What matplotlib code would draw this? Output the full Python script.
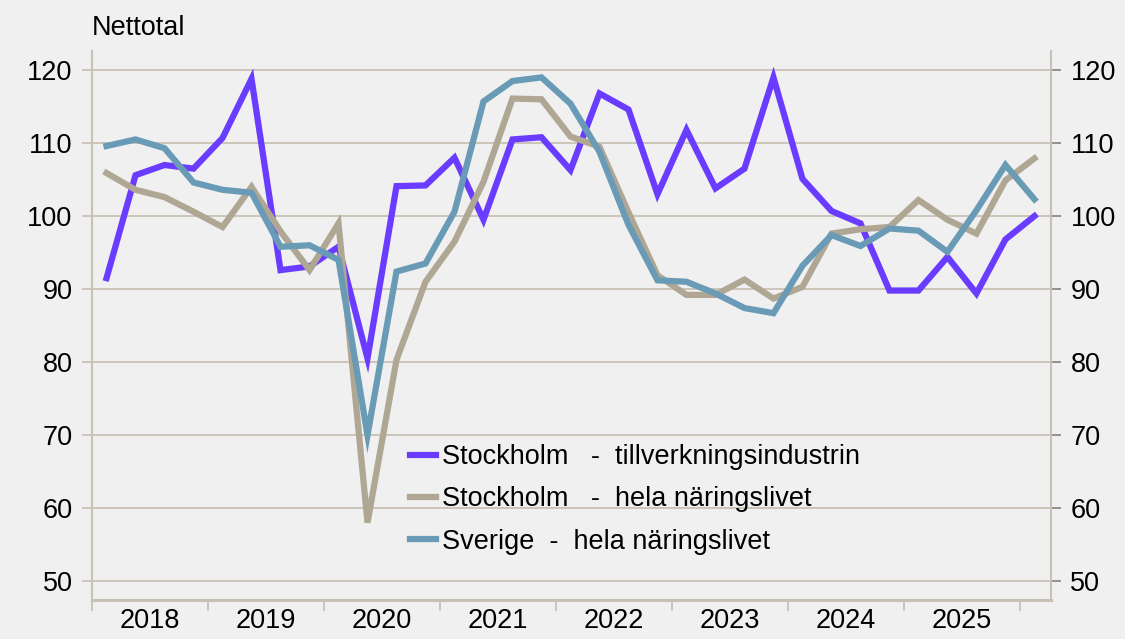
import numpy as np
import matplotlib
matplotlib.use("Agg")
import matplotlib.pyplot as plt

plt.rcParams['font.family'] = ['Liberation Sans', 'DejaVu Sans']

# ── Data (quarterly, 2018 Q1 – 2026 Q1) ─────────────────────────────
years = ['2018', '2019', '2020', '2021', '2022', '2023', '2024', '2025']

sthlm_industri = [
    91.5, 105.6, 107.0, 106.5,
    110.7, 118.8, 92.6, 93.1,
    95.8, 80.5, 104.1, 104.2,
    108.0, 99.5, 110.5, 110.8,
    106.3, 116.8, 114.6, 103.0,
    111.8, 103.8, 106.5, 119.0,
    105.1, 100.7, 99.0, 89.8,
    89.8, 94.4, 89.4, 96.8,
    100.0,
]
sthlm_hela = [
    105.9, 103.6, 102.6, 100.6,
    98.5, 104.0, 97.9, 92.6,
    99.0, 58.0, 80.3, 91.0,
    96.5, 104.7, 116.1, 116.0,
    110.9, 109.5, 100.5, 91.9,
    89.2, 89.2, 91.3, 88.7,
    90.3, 97.6, 98.2, 98.5,
    102.2, 99.5, 97.6, 104.9,
    107.9,
]
sverige_hela = [
    109.6, 110.5, 109.3, 104.6,
    103.6, 103.2, 95.8, 96.0,
    94.0, 70.0, 92.4, 93.5,
    100.6, 115.7, 118.5, 119.0,
    115.4, 108.8, 98.8, 91.2,
    91.0, 89.4, 87.4, 86.7,
    93.2, 97.4, 95.9, 98.3,
    98.0, 95.1, 100.8, 107.0,
    102.3,
]

labels = [
    'Stockholm   -  tillverkningsindustrin',
    'Stockholm   -  hela näringslivet',
    'Sverige  -  hela näringslivet',
]
colors = ['#6a3cff', '#b0a694', '#6a9bb6']

BG = '#f0f0f0'
GRID = '#c9c1b5'
FS = 19.5

x = np.arange(len(sthlm_industri))

fig = plt.figure(figsize=(11.25, 6.39), dpi=100, facecolor=BG)
ax = fig.add_axes([0.0818, 0.061, 0.8524, 0.859])
ax.set_facecolor(BG)

for y, c, lab in zip([sthlm_industri, sthlm_hela, sverige_hela], colors, labels):
    ax.plot(x, y, color=c, lw=4.5, label=lab, solid_joinstyle='miter')

ax.set_xlim(-0.5, 32.57)
ax.set_ylim(47.4, 122.6)
ax.set_yticks(np.arange(50, 121, 10))
ax.grid(axis='y', color=GRID, lw=1.3)
ax.set_axisbelow(True)

# year boundaries as major ticks, year labels centred as minor ticks
ax.set_xticks(np.arange(len(years) + 1) * 4 - 0.5)
ax.set_xticklabels([])
ax.set_xticks(np.arange(len(years)) * 4 + 1.5, minor=True)
ax.set_xticklabels(years, minor=True)
ax.tick_params(axis='x', which='major', length=8, width=1.3, color=GRID)
ax.tick_params(axis='x', which='minor', length=0, labelsize=FS, pad=6)
ax.tick_params(axis='y', length=7, width=1.3, color=GRID, labelsize=FS, pad=7)

ax.spines['top'].set_visible(False)
ax.spines['left'].set_color(GRID)
ax.spines['left'].set_linewidth(1.5)
ax.spines['bottom'].set_color(GRID)
ax.spines['bottom'].set_linewidth(2.2)
ax.spines['right'].set_visible(False)

# right-hand axis mirrors the left
ax2 = ax.twinx()
ax2.set_ylim(ax.get_ylim())
ax2.set_yticks(np.arange(50, 121, 10))
ax2.tick_params(axis='y', length=7, width=1.3, color='#8a8a8a', labelsize=FS, pad=7)
for side in ['top', 'left', 'bottom']:
    ax2.spines[side].set_visible(False)
ax2.spines['right'].set_color(GRID)
ax2.spines['right'].set_linewidth(1.5)

fig.text(0.082, 0.956, 'Nettotal', fontsize=FS, ha='left', va='center')

ax.legend(loc='upper left', bbox_to_anchor=(0.3547, 0.322), bbox_transform=fig.transFigure,
          frameon=False, fontsize=FS, handlelength=0.95, handletextpad=0.25,
          labelspacing=0.6, borderaxespad=0)

fig.savefig('out.png', dpi=100, facecolor=BG)
